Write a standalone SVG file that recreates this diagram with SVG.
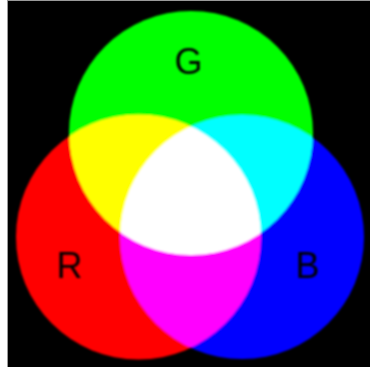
<svg xmlns="http://www.w3.org/2000/svg" width="370" height="367" viewBox="0 0 370 367">
  <defs>
    <filter id="soft" x="-10%" y="-10%" width="120%" height="120%">
      <feGaussianBlur stdDeviation="0.8"/>
    </filter>
    <style>
      .c { mix-blend-mode: screen; }
      .lbl { font-family: "Liberation Sans", Arial, sans-serif; font-size: 36px; fill: #000; text-anchor: middle; }
    </style>
  </defs>
  <rect x="0" y="0" width="370" height="367" fill="#ffffff"/>
  <rect x="7" y="1" width="363" height="366" fill="#000000"/>
  <line x1="7.5" y1="1" x2="7.5" y2="367" stroke="#9a9a9a" stroke-width="1"/>
  <line x1="7" y1="0.5" x2="370" y2="0.5" stroke="#9a9a9a" stroke-width="1"/>
  <g filter="url(#soft)" style="isolation:isolate">
    <g id="green" class="c"><circle cx="191" cy="133" r="122" fill="#00ff00"/></g>
    <g id="red" class="c"><circle cx="138.5" cy="237" r="122.5" fill="#ff0000"/></g>
    <g id="blue" class="c"><circle cx="242" cy="237" r="122" fill="#0000ff"/></g>
  </g>
  <g id="labels" filter="url(#soft)">
    <text class="lbl" x="188.5" y="73.5">G</text>
    <text class="lbl" x="69.5" y="278">R</text>
    <text class="lbl" x="307.5" y="278">B</text>
  </g>
</svg>
